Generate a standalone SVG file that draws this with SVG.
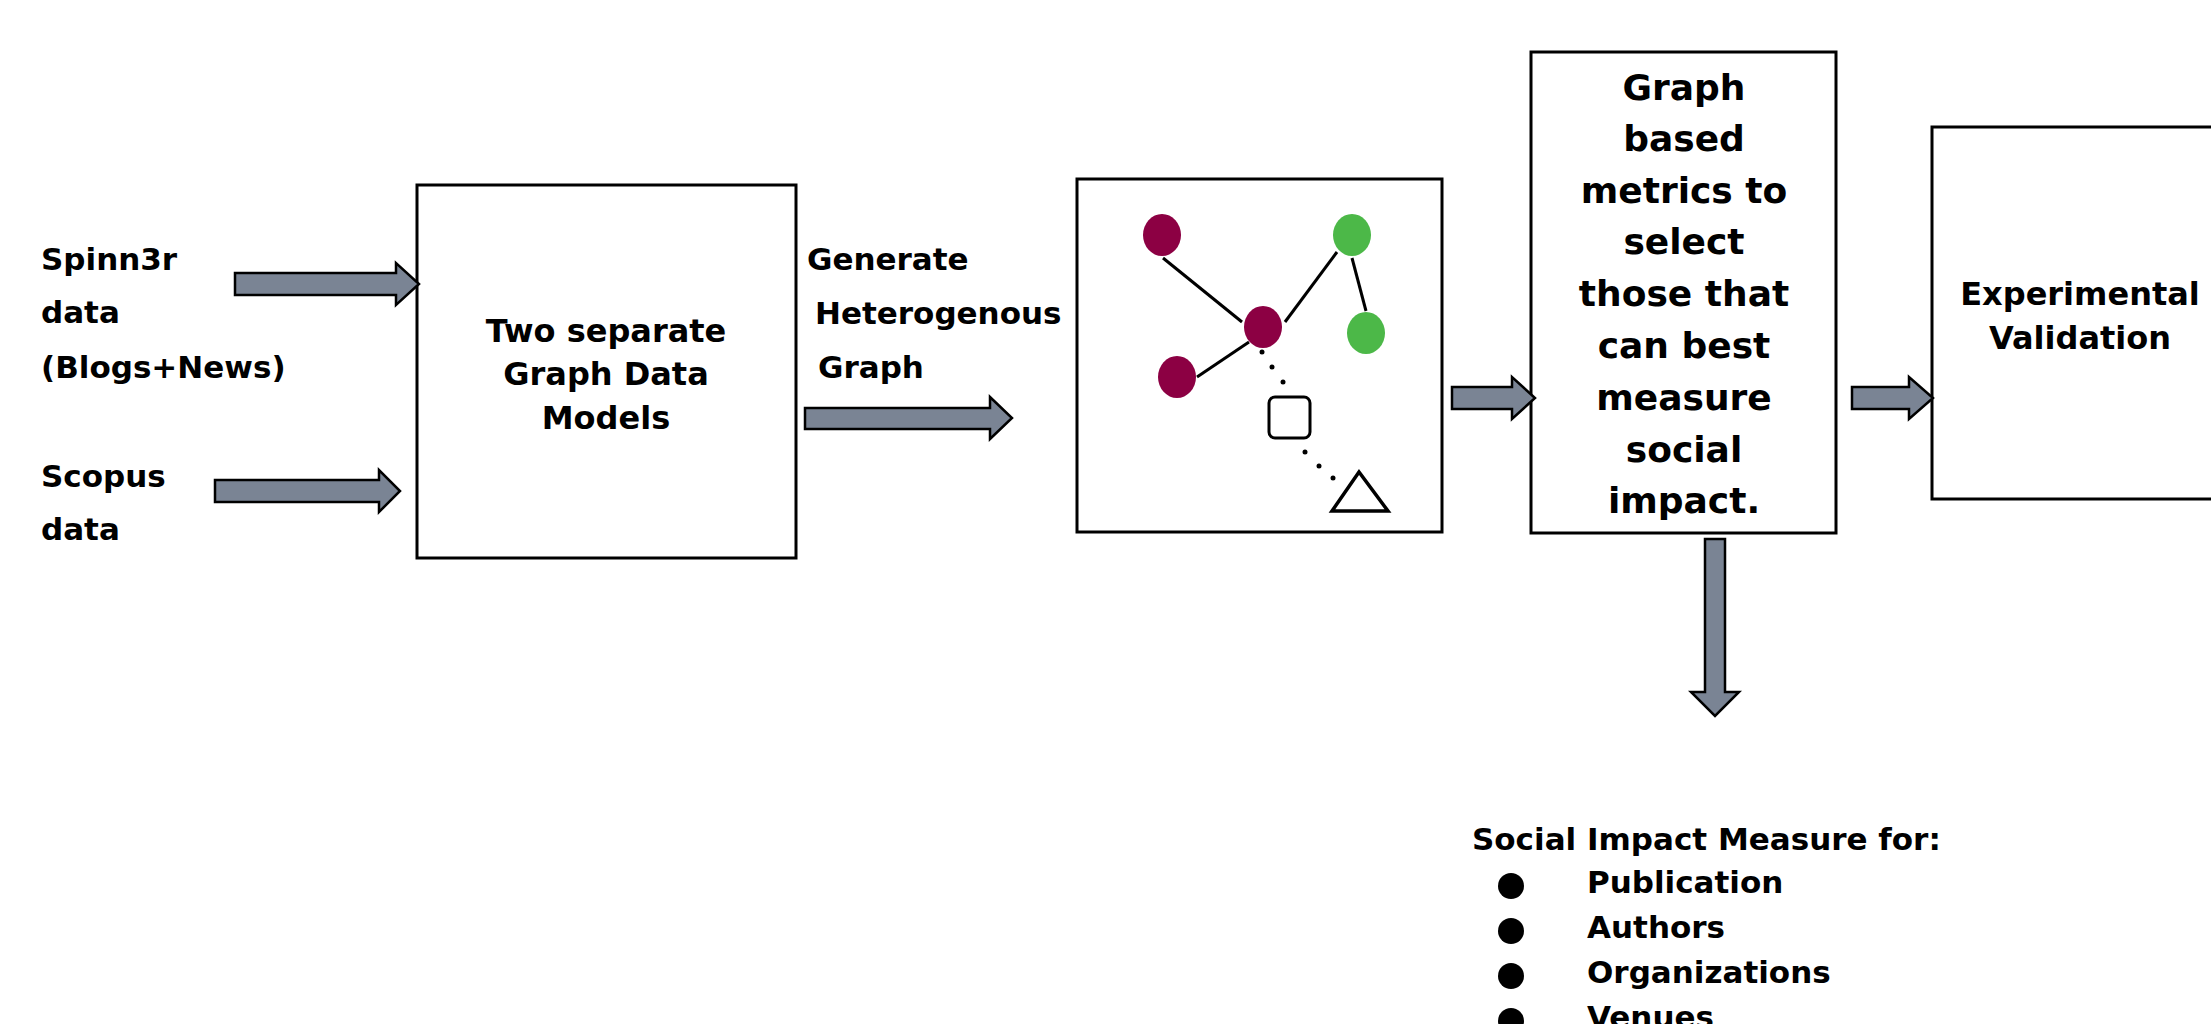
<svg xmlns="http://www.w3.org/2000/svg" width="2211" height="1024" viewBox="0 0 2211 1024">
<style>
.t{font-family:"DejaVu Sans","Liberation Sans",sans-serif;font-weight:bold;fill:#000;}
.s31{font-size:31px;}
.s32{font-size:32px;}
.s36{font-size:36px;}
.box{fill:#fff;stroke:#000;stroke-width:3;}
.arr{fill:#7a8494;stroke:#000;stroke-width:2.5;stroke-linejoin:miter;}
.edge{stroke:#000;stroke-width:3;fill:none;}
.maroon{fill:#8c0043;}
.green{fill:#4cb848;}
.dot{fill:#000;}
</style>
<rect width="2211" height="1024" fill="#fff"/>

<g id="input-labels">
<text class="t s31" x="41" y="270">Spinn3r</text>
<text class="t s31" x="41" y="323">data</text>
<text class="t s31" x="41" y="378">(Blogs+News)</text>
<text class="t s31" x="41" y="487">Scopus</text>
<text class="t s31" x="41" y="540">data</text>
</g>

<g id="node-models">
<rect class="box" x="417" y="185" width="379" height="373"/>
<text class="t s32" x="606" y="342" text-anchor="middle">Two separate</text>
<text class="t s32" x="606" y="385" text-anchor="middle">Graph Data</text>
<text class="t s32" x="606" y="429" text-anchor="middle">Models</text>
</g>

<g id="generate-label">
<text class="t s31" x="807" y="270">Generate</text>
<text class="t s31" x="815" y="324">Heterogenous</text>
<text class="t s31" x="818" y="378">Graph</text>
</g>

<g id="node-graph">
<rect class="box" x="1077" y="179" width="365" height="353"/>
<line class="edge" x1="1163" y1="258" x2="1242" y2="322"/>
<line class="edge" x1="1285" y1="322" x2="1337" y2="252"/>
<line class="edge" x1="1352" y1="258" x2="1366" y2="311"/>
<line class="edge" x1="1197" y1="377" x2="1249" y2="342"/>
<ellipse class="maroon" cx="1162" cy="235" rx="19" ry="21"/>
<ellipse class="green" cx="1352" cy="235" rx="19" ry="21"/>
<ellipse class="maroon" cx="1263" cy="327" rx="19" ry="21"/>
<ellipse class="green" cx="1366" cy="333" rx="19" ry="21"/>
<ellipse class="maroon" cx="1177" cy="377" rx="19" ry="21"/>
<circle class="dot" cx="1262" cy="352" r="2.5"/>
<circle class="dot" cx="1272" cy="367" r="2.5"/>
<circle class="dot" cx="1283" cy="382" r="2.5"/>
<circle class="dot" cx="1305" cy="452" r="2.5"/>
<circle class="dot" cx="1319" cy="466" r="2.5"/>
<circle class="dot" cx="1333" cy="478" r="2.5"/>
<rect x="1269" y="397" width="41" height="41" rx="6" fill="#fff" stroke="#000" stroke-width="3"/>
<polygon points="1359,472 1332,511 1388,511" fill="#fff" stroke="#000" stroke-width="3.5" stroke-linejoin="miter"/>
</g>

<g id="node-metrics">
<rect class="box" x="1531" y="52" width="305" height="481"/>
<text class="t s36" x="1684" y="100" text-anchor="middle">Graph</text>
<text class="t s36" x="1684" y="151" text-anchor="middle">based</text>
<text class="t s36" x="1684" y="203" text-anchor="middle">metrics to</text>
<text class="t s36" x="1684" y="254" text-anchor="middle">select</text>
<text class="t s36" x="1684" y="306" text-anchor="middle">those that</text>
<text class="t s36" x="1684" y="358" text-anchor="middle">can best</text>
<text class="t s36" x="1684" y="410" text-anchor="middle">measure</text>
<text class="t s36" x="1684" y="462" text-anchor="middle">social</text>
<text class="t s36" x="1684" y="513" text-anchor="middle">impact.</text>
</g>

<g id="node-validation">
<rect class="box" x="1932" y="127" width="310" height="372"/>
<text class="t s32" x="2080" y="305" text-anchor="middle">Experimental</text>
<text class="t s32" x="2080" y="349" text-anchor="middle">Validation</text>
</g>

<g id="node-social-impact">
<text class="t s31" x="1472" y="850">Social Impact Measure for:</text>
<circle cx="1511" cy="886" r="13" fill="#000"/>
<text class="t s31" x="1587" y="893">Publication</text>
<circle cx="1511" cy="931" r="13" fill="#000"/>
<text class="t s31" x="1587" y="938">Authors</text>
<circle cx="1511" cy="976" r="13" fill="#000"/>
<text class="t s31" x="1587" y="983">Organizations</text>
<circle cx="1511" cy="1021" r="13" fill="#000"/>
<text class="t s31" x="1587" y="1028">Venues</text>
</g>

<g id="connectors">
<path class="arr" d="M235,273 H396 V263 L419,284 L396,305 V295 H235 Z"/>
<path class="arr" d="M215,480 H379 V470 L400,491 L379,512 V502 H215 Z"/>
<path class="arr" d="M805,408 H990 V397 L1012,418 L990,439 V429 H805 Z"/>
<path class="arr" d="M1452,387 H1512 V377 L1535,398 L1512,419 V409 H1452 Z"/>
<path class="arr" d="M1852,387 H1909 V377 L1933,398 L1909,419 V409 H1852 Z"/>
<path class="arr" d="M1705,539 V692 H1691 L1715,716 L1739,692 H1725 V539 Z"/>
</g>
</svg>
